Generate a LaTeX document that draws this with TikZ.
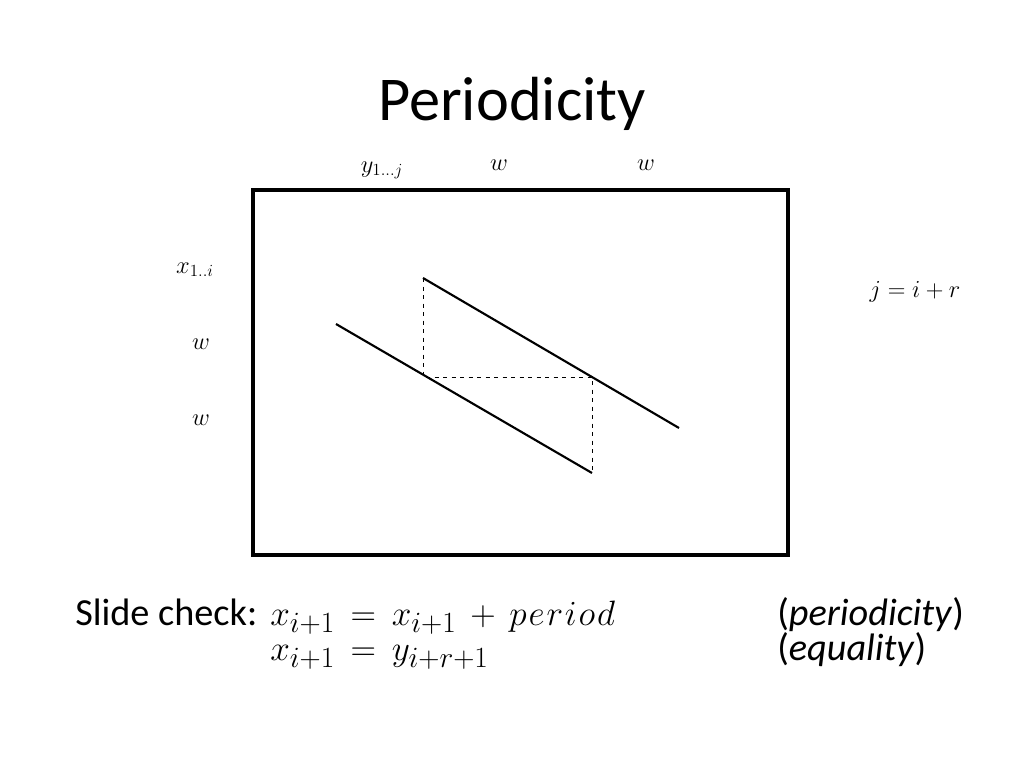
\documentclass[tikz,border=0pt]{standalone}
\usepackage{fontspec}
\setmainfont{Carlito}
\newcommand\tightlines{\lineskiplimit=-100pt\relax}
\newcommand\widemath{\thickmuskip=8mu\relax\medmuskip=7mu\relax}
\newcommand\spc{\mkern1mu}
\begin{document}
\begin{tikzpicture}[x=0.703125bp,y=-0.703125bp,
  lbl/.style={inner sep=0pt,font=\fontsize{18}{20}\selectfont},
  big/.style={inner sep=0pt,align=left,font=\fontsize{27}{25}\selectfont\tightlines},
  bigm/.style={inner sep=0pt,align=left,font=\fontsize{28}{25}\selectfont\tightlines\widemath},
  frame/.style={draw,line width=2.2pt},
  diag/.style={line width=1.5pt},
  guide/.style={dashed,line width=0.6pt}]
\useasboundingbox[fill=white] (0,0) rectangle (1024,768);
\node[inner sep=0pt,anchor=base,font=\fontsize{44}{50}\selectfont] (title) at (512,120) {Periodicity};
\draw[frame] (253,190) rectangle (788,555);
\node[lbl,anchor=base] (ylab) at (382,172) {$y_{1\ldots j}$};
\node[lbl,anchor=base] (w1) at (499,170) {$w$};
\node[lbl,anchor=base] (w2) at (646,170) {$w$};
\node[lbl,anchor=base] (xlab) at (195,273) {$x_{1..i}$};
\node[lbl,anchor=base] (w3) at (201,349) {$w$};
\node[lbl,anchor=base] (w4) at (201,425) {$w$};
\node[lbl,anchor=base,font=\fontsize{17}{20}\selectfont] (eq) at (915,297) {$j=i+r$};
\coordinate (a1) at (423,278);
\coordinate (a2) at (679,428);
\coordinate (b1) at (336,324);
\coordinate (b2) at (592,473);
\coordinate (c1) at (423,377);
\coordinate (c2) at (592,377);
\draw[diag] (a1) -- (a2);
\draw[diag] (b1) -- (b2);
\draw[guide] (a1) -- (c1) -- (c2) -- (b2);
\node[big,anchor=base west] (sc) at (75,625) {Slide check:};
\node[bigm,anchor=base west] (f) at (270,660.5) {$x_{i+1}=x_{i+1}+p\spc e\spc r\spc i\spc o\spc d$\\$x_{i+1}=y_{i+r+1}$};
\node[big,anchor=base west] (p) at (777,660.5) {(\textit{periodicity})\\(\textit{equality})};
\end{tikzpicture}
\end{document}
